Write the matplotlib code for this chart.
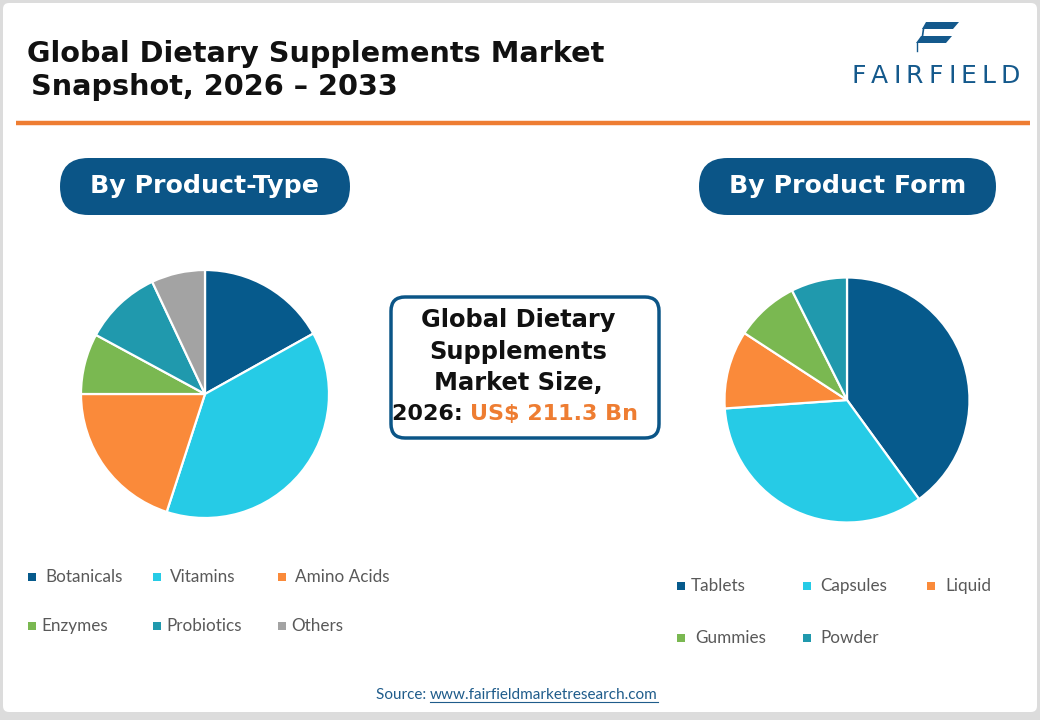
import numpy as np
import matplotlib.pyplot as plt
from matplotlib.patches import FancyBboxPatch, Polygon, Rectangle

# data
type_labels = ['Botanicals', 'Vitamins', 'Amino Acids', 'Enzymes', 'Probiotics', 'Others']
type_share = [16.9, 38.1, 20.0, 7.9, 10.1, 7.0]
form_labels = ['Tablets', 'Capsules', 'Liquid', 'Gummies', 'Powder']
form_share = [40.0, 33.9, 10.3, 8.4, 7.4]

type_colors = ['#065a8c', '#26cbe6', '#fa8a3a', '#7ab851', '#2099ad', '#a3a3a3']
form_colors = ['#065a8c', '#26cbe6', '#fa8a3a', '#7ab851', '#2099ad']

W, H = 1040, 720
plt.rcParams['font.family'] = ['Lato', 'DejaVu Sans']
fig = plt.figure(figsize=(W / 100, H / 100), dpi=100)
fig.patch.set_facecolor('#dcdcdc')
renderer = fig.canvas.get_renderer()

# overlay in pixel coordinates
ov = fig.add_axes([0, 0, 1, 1])
ov.set_xlim(0, W)
ov.set_ylim(H, 0)
ov.axis('off')

ov.add_patch(FancyBboxPatch((3, 3), W - 6, H - 11, boxstyle='round,pad=0,rounding_size=6',
                            fc='white', ec='none'))

HEAD = 'DejaVu Sans'

ov.text(27, 54, 'Global Dietary Supplements Market', fontsize=20.7, fontweight='bold',
        family=HEAD, color='#111111', va='center', ha='left')
ov.text(31, 87, 'Snapshot, 2026 – 2033', fontsize=20.7, fontweight='bold',
        family=HEAD, color='#111111', va='center', ha='left')
ov.plot([16, 1030], [123, 123], color='#ee7d32', lw=3.2, solid_capstyle='butt')

# logo
logo_c = '#14598c'
ov.add_patch(Polygon([(926, 22), (959, 22), (953, 29), (922, 29)], closed=True, fc=logo_c, ec='none'))
ov.plot([923.5, 922.5], [29, 36], color=logo_c, lw=1.2)
ov.add_patch(Polygon([(921, 36), (952, 36), (946, 43), (916, 43)], closed=True, fc=logo_c, ec='none'))
ov.plot([916.5, 916.5], [43, 51], color=logo_c, lw=1)

# spaced-out brand name
x = 851.0
for ch in 'FAIRFIELD':
    t = ov.text(x, 76, ch, fontsize=18, color=logo_c, ha='left', va='center', family=HEAD)
    w = t.get_window_extent(renderer).width
    x += w + 5.2

# section pills
pill_c = '#0b5587'
for x0, x1, label in [(60, 350, 'By Product-Type'), (699, 996, 'By Product Form')]:
    ov.add_patch(FancyBboxPatch((x0, 158), x1 - x0, 57, boxstyle='round,pad=0,rounding_size=28.5',
                                fc=pill_c, ec='none'))
    ov.text((x0 + x1) / 2, 186.5, label, fontsize=18.2, fontweight='bold', color='white',
            family=HEAD, ha='center', va='center')

# centre box
ov.add_patch(FancyBboxPatch((391, 297), 268, 141, boxstyle='round,pad=0,rounding_size=14',
                            fc='white', ec='#0b5587', lw=2.5))
for y, line in [(320, 'Global Dietary'), (352, 'Supplements'), (383, 'Market Size,')]:
    ov.text(518, y, line, fontsize=17.4, fontweight='bold', color='#111111', family=HEAD,
            ha='center', va='center')
ov.text(470, 414, '2026: ', fontsize=16, fontweight='bold', color='#111111', family=HEAD,
        ha='right', va='center')
ov.text(470, 414, 'US$ 211.3 Bn', fontsize=16, fontweight='bold', color='#ee7d32', family=HEAD,
        ha='left', va='center')

# pies
def pie_axes(cx, cy, r):
    return fig.add_axes([(cx - r) / W, 1 - (cy + r) / H, 2 * r / W, 2 * r / H])

ax1 = pie_axes(205, 394, 124)
ax1.pie(type_share, colors=type_colors, startangle=90, counterclock=False, radius=1,
        wedgeprops=dict(edgecolor='white', linewidth=1.6))
ax2 = pie_axes(847, 400, 122.5)
ax2.pie(form_share, colors=form_colors, startangle=90, counterclock=False, radius=1,
        wedgeprops=dict(edgecolor='white', linewidth=1.6))
for a in (ax1, ax2):
    a.set_xlim(-1, 1)
    a.set_ylim(-1, 1)
    a.axis('off')

# legends
leg_c = '#595959'
def legend_item(mx, tx, y, color, label):
    ov.add_patch(Rectangle((mx - 4, y - 4), 8, 8, fc=color, ec='none'))
    ov.text(tx, y, label, fontsize=12.3, color=leg_c, ha='left', va='center')

left_pos = [(32, 45, 577), (157, 170, 577), (282, 295, 577),
            (32, 41, 626), (157, 166, 626), (282, 291, 626)]
for (mx, tx, y), c, lab in zip(left_pos, type_colors, type_labels):
    legend_item(mx, tx, y, c, lab)
right_pos = [(681, 691, 586), (807, 820, 586), (931, 945, 586),
             (681, 695, 638), (807, 820, 638)]
for (mx, tx, y), c, lab in zip(right_pos, form_colors, form_labels):
    legend_item(mx, tx, y, c, lab)

# source
src_c = '#1f5c8b'
s = ov.text(376, 695, 'Source: ', fontsize=11, color=src_c, ha='left', va='center')
ux = 376 + s.get_window_extent(renderer).width
u = ov.text(ux, 695, 'www.fairfieldmarketresearch.com', fontsize=11, color=src_c,
            ha='left', va='center')
uw = u.get_window_extent(renderer).width
ov.plot([ux, ux + uw], [702, 702], color=src_c, lw=0.8)

fig.savefig('out.png', dpi=100, facecolor=fig.get_facecolor())
